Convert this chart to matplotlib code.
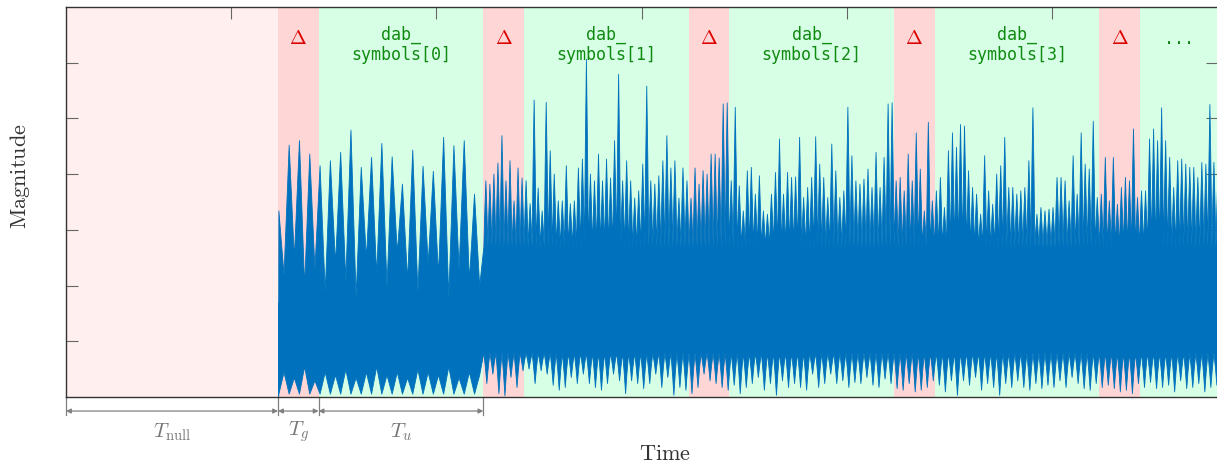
import numpy as np
import matplotlib.pyplot as plt

plt.rcParams['mathtext.fontset'] = 'cm'

# DAB transmission mode I, lengths in samples
T_null = 2656
T_g = 504
T_u = 2048
T_s = T_g + T_u

symbol_labels = ['dab_\nsymbols[0]', 'dab_\nsymbols[1]', 'dab_\nsymbols[2]',
                 'dab_\nsymbols[3]', '...']
tick_pos = [2070, 4622, 7174, 9726, 12278]
mag_ticks = [0.1, 0.2, 0.3, 0.4, 0.5, 0.6]

# phase reference symbol (dab_symbols[0]): one peak every 128 samples
pr_step = 128
pr_peak = [0.335, 0.453, 0.461, 0.437, 0.416, 0.425, 0.440, 0.480, 0.413, 0.431,
           0.456, 0.432, 0.383, 0.444, 0.415, 0.406, 0.467, 0.452, 0.461, 0.365]
pr_valley = [0.22, 0.25, 0.20, 0.23, 0.19, 0.24, 0.21, 0.18, 0.25, 0.22,
             0.20, 0.26, 0.21, 0.19, 0.24, 0.22, 0.18, 0.23, 0.21, 0.20]
pr_floor = [0.045, 0.035, 0.055, 0.03, 0.045, 0.04, 0.05, 0.035, 0.045, 0.055,
            0.04, 0.045, 0.035, 0.05, 0.045, 0.04, 0.055, 0.035, 0.045, 0.04]
pr_touch = 0.006

# data symbols: spikes above the noise band, one every 50 samples
up_step = 50
data_peak = [
    0.389, 0.383, 0.401, 0.421, 0.470, 0.389, 0.425, 0.353, 0.412, 0.394,
    0.389, 0.348, 0.534, 0.376, 0.335, 0.530, 0.443, 0.401, 0.353, 0.353,
    0.416, 0.348, 0.353, 0.412, 0.428, 0.607, 0.401, 0.389, 0.437, 0.389,
    0.428, 0.394, 0.461, 0.580, 0.389, 0.425, 0.389, 0.358, 0.371, 0.419,
    0.559, 0.389, 0.383, 0.398, 0.425, 0.470, 0.412, 0.425, 0.358, 0.412,
    0.389, 0.358, 0.412, 0.383, 0.407, 0.401, 0.437, 0.437, 0.430, 0.527,
    0.529,
    0.389, 0.521, 0.380, 0.335, 0.407, 0.413, 0.365, 0.398, 0.335, 0.329,
    0.365, 0.404, 0.464, 0.365, 0.404, 0.395, 0.396, 0.467, 0.359, 0.377,
    0.395, 0.468, 0.419, 0.395, 0.359, 0.455, 0.407, 0.359, 0.371, 0.521,
    0.434, 0.389, 0.383, 0.392, 0.410, 0.377, 0.440, 0.377, 0.431, 0.527,
    0.529, 0.389, 0.395, 0.371, 0.437, 0.389, 0.475, 0.410, 0.335, 0.494,
    0.353, 0.371, 0.395, 0.341, 0.443, 0.475, 0.449, 0.490, 0.487, 0.407,
    0.377, 0.365,
    0.329, 0.434, 0.371, 0.347, 0.401, 0.416, 0.467, 0.377, 0.377, 0.365,
    0.371, 0.377, 0.425, 0.520, 0.329, 0.341, 0.335, 0.338, 0.341, 0.395,
    0.395, 0.389, 0.353, 0.434, 0.365, 0.475, 0.419, 0.410, 0.496, 0.359,
    0.365, 0.431, 0.353, 0.431, 0.347, 0.377, 0.395, 0.389, 0.482, 0.359,
    0.371, 0.371, 0.464, 0.482, 0.461, 0.520, 0.461, 0.431, 0.377, 0.425,
    0.428, 0.419, 0.413, 0.413, 0.395, 0.422, 0.419, 0.526, 0.422, 0.401]
# ... and dips below it, one every 75 samples
down_step = 75
data_dip = [
    0.025, 0.042, 0.007, 0.003, 0.036, 0.018, 0.048, 0.051, 0.025, 0.048,
    0.042, 0.022, 0.013, 0.018, 0.036, 0.025, 0.042, 0.025, 0.018, 0.013,
    0.025, 0.042, 0.030, 0.007, 0.030, 0.025, 0.016, 0.025, 0.042, 0.018,
    0.036, 0.004, 0.018, 0.013, 0.007, 0.018, 0.042, 0.030, 0.025, 0.018,
    0.013,
    0.022, 0.007, 0.018, 0.025, 0.036, 0.013, 0.025, 0.004, 0.030, 0.018,
    0.025, 0.018, 0.013, 0.042, 0.018, 0.025, 0.042, 0.025, 0.030, 0.018,
    0.027, 0.025, 0.036, 0.022, 0.018, 0.033, 0.025, 0.016, 0.013, 0.025,
    0.010, 0.013, 0.018, 0.030, 0.022, 0.010, 0.030, 0.004, 0.030, 0.022,
    0.036,
    0.013, 0.025, 0.018, 0.004, 0.025, 0.018, 0.030, 0.018, 0.013, 0.025,
    0.016, 0.022, 0.018, 0.030, 0.018, 0.036, 0.025, 0.016, 0.013, 0.025,
    0.018, 0.022, 0.016, 0.010, 0.013, 0.007, 0.025, 0.018, 0.027, 0.016,
    0.018, 0.022, 0.010, 0.030, 0.016, 0.018, 0.025, 0.010, 0.018, 0.022]
core_top = 0.27
core_bottom = 0.08

x_min, x_max = 20, 14340
blue = '#0072BD'

# build the upper and lower edge of the magnitude trace
pr_t = T_null + 4 + pr_step * np.arange(len(pr_peak))
d0 = T_null + T_s

xu, yu = [T_null], [0.0]
for k in range(len(pr_peak)):
    xu += [pr_t[k], pr_t[k] + pr_step / 2]
    yu += [pr_peak[k], pr_valley[k]]
# spikes: broad foot, thin tip
for i, p in enumerate(data_peak):
    t = d0 + i * up_step
    foot = core_top + 0.55 * (p - core_top)
    xu += [t, t + 12, t + 25, t + 38]
    yu += [core_top, foot, p, foot]

xl, yl = [T_null], [0.0]
for k in range(len(pr_floor)):
    xl += [pr_t[k], pr_t[k] + pr_step / 2]
    yl += [pr_touch, pr_floor[k]]
for j, d in enumerate(data_dip):
    t = d0 + j * down_step
    foot = core_bottom - 0.5 * (core_bottom - d)
    xl += [t, t + 20, t + 37, t + 54]
    yl += [core_bottom, foot, d, foot]

fig = plt.figure(figsize=(12.17, 4.66), dpi=100)
ax = fig.add_axes([66 / 1217, 69 / 466, 1152 / 1217, 390 / 466])

# frame structure background
ax.axvspan(x_min, T_null, color='#FFEFEF', lw=0, zorder=0)
trans = ax.get_xaxis_transform()
for i in range(5):
    s = T_null + i * T_s
    ax.axvspan(s, s + T_g, color='#FFD6D6', lw=0, zorder=0)
    ax.axvspan(s + T_g, s + T_s, color='#D6FFE6', lw=0, zorder=0)
    ax.text(s + T_g / 2, 0.919, r'$\Delta$', color='#DD0000', fontsize=14.5,
            ha='center', va='center', transform=trans, zorder=5)
    c = (s + T_g + min(s + T_s, x_max)) / 2
    if symbol_labels[i] == '...':
        ax.text(c, 0.905, symbol_labels[i], color='#118A11', fontsize=12,
                family='DejaVu Sans Mono', ha='center', va='baseline',
                transform=trans, zorder=5)
    else:
        ax.text(c, 0.903, symbol_labels[i], color='#118A11', fontsize=12,
                family='DejaVu Sans Mono', ha='center', va='center',
                multialignment='center', linespacing=1.1, transform=trans, zorder=5)

ax.fill_between(xu, 0.13, yu, facecolor=blue, edgecolor=blue, linewidth=0.6, zorder=2)
ax.fill_between(xl, yl, 0.17, facecolor=blue, edgecolor=blue, linewidth=0.6, zorder=2)

ax.set_xlim(x_min, x_max)
ax.set_ylim(0, 0.7)
ax.set_xticks(tick_pos)
ax.set_yticks(mag_ticks)
ax.tick_params(axis='x', direction='in', top=True, bottom=False,
               labeltop=False, labelbottom=False, length=8.6, color='#666666')
ax.tick_params(axis='y', direction='in', left=True, right=True,
               labelleft=False, labelright=False, length=8.6, color='#666666')
for sp in ax.spines.values():
    sp.set_color('#333333')
    sp.set_linewidth(1.0)

# timing dimensions below the axis
bounds = [x_min, T_null, T_null + T_g, T_null + T_s]
dim_labels = [r'$T_{\mathrm{null}}$', r'$T_g$', r'$T_u$']
gray = '#808080'
for b in bounds:
    ax.plot([b, b], [0, -0.046], color=gray, lw=0.9, transform=trans, clip_on=False)
for a, b, lab in zip(bounds[:-1], bounds[1:], dim_labels):
    ax.annotate('', xy=(a, -0.036), xytext=(b, -0.036), xycoords=trans,
                textcoords=trans, annotation_clip=False,
                arrowprops=dict(arrowstyle='<|-|>', color=gray, lw=0.9,
                                mutation_scale=7, shrinkA=0, shrinkB=0))
    ax.text((a + b) / 2, -0.09, lab, color='#777777', fontsize=15,
            ha='center', va='center', transform=trans)

fig.text(665 / 1217, 1 - 454 / 466, r'$\mathrm{Time}$', fontsize=16,
         color='#333333', ha='center', va='center')
fig.text(20 / 1217, 1 - 176 / 466, r'$\mathrm{Magnitude}$', fontsize=16,
         color='#333333', ha='center', va='center', rotation=90)

fig.savefig('out.png', dpi=100)
